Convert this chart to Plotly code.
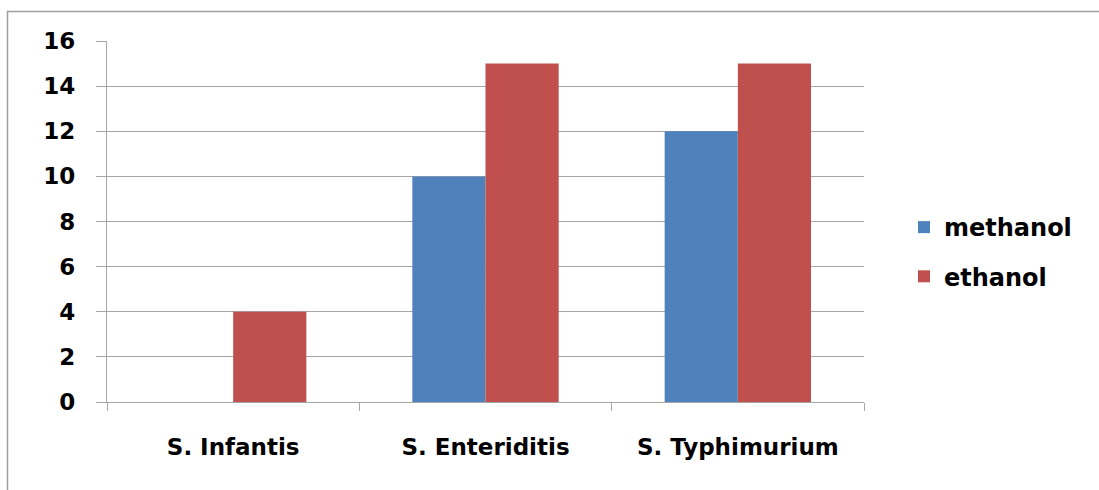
import plotly.graph_objects as go

categories = ["S. Infantis", "S. Enteriditis", "S. Typhimurium"]
methanol = [0, 10, 12]
ethanol = [4, 15, 15]
y_ticks = [0, 2, 4, 6, 8, 10, 12, 14, 16]

BLUE = "#4F81BD"
RED = "#C0504D"
GRID = "#A6A6A6"
FONT = "DejaVu Sans"

W, H = 1099, 490
L, R, T, B = 107, 235, 41, 88
pw, ph = W - L - R, H - T - B


def px_x(p):
    return (p - L) / pw


def px_y(p):
    return (H - B - p) / ph


fig = go.Figure()
fig.add_trace(go.Bar(name="methanol", x=categories, y=methanol,
                     marker=dict(color=BLUE, line=dict(width=0)),
                     legendgroup="a"))
fig.add_trace(go.Bar(name="ethanol", x=categories, y=ethanol,
                     marker=dict(color=RED, line=dict(width=0)),
                     legendgroup="b"))

fig.update_layout(
    width=W, height=H,
    margin=dict(l=L, r=R, t=T, b=B),
    paper_bgcolor="white", plot_bgcolor="white",
    barmode="group", bargap=0.42, bargroupgap=0,
    font=dict(family=FONT, color="#000000"),
    legend=dict(x=px_x(904), y=px_y(205), xanchor="left", yanchor="top",
                font=dict(family=FONT, size=24, weight="bold"),
                tracegroupgap=15, traceorder="grouped",
                bgcolor="rgba(0,0,0,0)"),
    showlegend=True,
    shapes=[dict(type="rect", xref="paper", yref="paper",
                 x0=px_x(7.5), x1=px_x(1110), y0=px_y(11.5), y1=px_y(500),
                 line=dict(color="#A0A0A0", width=1.5), layer="below")],
)

fig.update_yaxes(
    range=[0, 16], tickvals=y_ticks, ticktext=[str(v) for v in y_ticks],
    showgrid=True, gridcolor=GRID, gridwidth=1.2,
    showline=True, linecolor=GRID, linewidth=1.2,
    ticks="outside", ticklen=10, tickcolor=GRID, tickwidth=1.2,
    ticklabelstandoff=16,
    tickfont=dict(family=FONT, size=23, weight="bold"),
    zeroline=False, fixedrange=True,
)
fig.update_xaxes(
    showline=True, linecolor=GRID, linewidth=1.2,
    ticks="outside", tickson="boundaries", ticklen=8, tickcolor=GRID,
    tickwidth=1.2, ticklabelstandoff=24,
    tickfont=dict(family=FONT, size=23, weight="bold"),
    fixedrange=True,
)

fig.write_html("out.html")
